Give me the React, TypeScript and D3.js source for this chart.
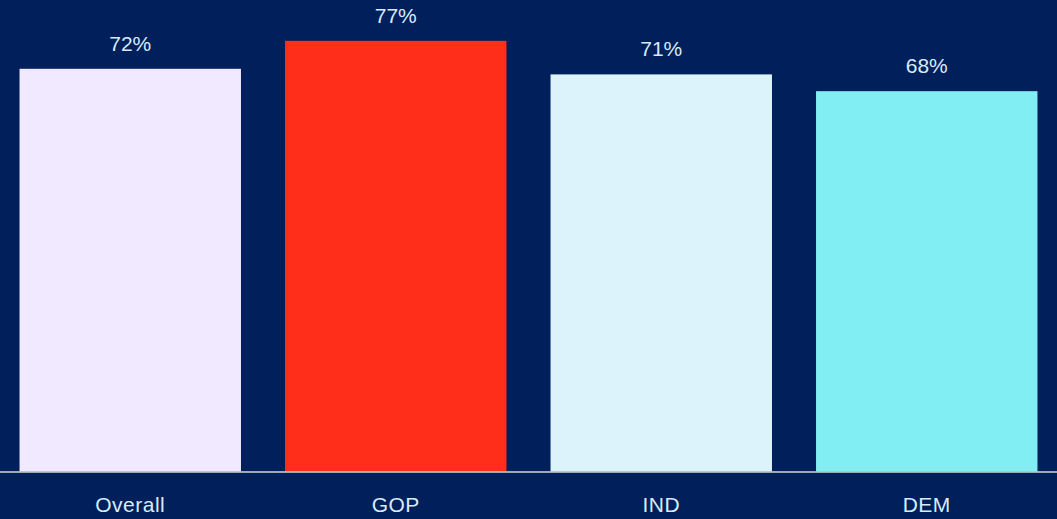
import React, { useEffect, useRef } from "react";
import * as d3 from "d3";

const categories: string[] = ["Overall", "GOP", "IND", "DEM"];
const values: number[] = [72, 77, 71, 68];
const barColors: string[] = ["#f1e9ff", "#ff2e1a", "#dcf3fc", "#80eef2"];

const W = 1057;
const H = 519;

export default function App() {
    const ref = useRef<SVGSVGElement | null>(null);

    useEffect(() => {
        const svg = d3.select(ref.current);
        svg.selectAll("*").remove();

        const baseY = 471.5;

        // band scale for the 4 groups
        const x = d3
            .scaleBand<string>()
            .domain(categories)
            .range([-2.5, W + 2.5])
            .paddingInner(0.166)
            .paddingOuter(0.083);

        const y = d3.scaleLinear().domain([0, 84.3]).range([baseY, 0]);

        svg.append("rect").attr("width", W).attr("height", H).attr("fill", "#001f5b");

        svg.selectAll(".bar")
            .data(values)
            .enter()
            .append("rect")
            .attr("class", "bar")
            .attr("x", (d, i) => x(categories[i])!)
            .attr("width", x.bandwidth())
            .attr("y", d => y(d))
            .attr("height", d => baseY - y(d))
            .attr("fill", (d, i) => barColors[i]);

        // value labels
        svg.selectAll(".val")
            .data(values)
            .enter()
            .append("text")
            .attr("class", "val")
            .attr("x", (d, i) => x(categories[i])! + x.bandwidth() / 2)
            .attr("y", d => y(d) - 18)
            .attr("text-anchor", "middle")
            .attr("fill", "#d6ecfb")
            .attr("font-family", "'Liberation Sans', Arial, sans-serif")
            .attr("font-size", 21)
            .text(d => d + "%");

        // baseline
        svg.append("line")
            .attr("x1", 0)
            .attr("x2", W)
            .attr("y1", baseY + 0.5)
            .attr("y2", baseY + 0.5)
            .attr("stroke", "#d9d9d9")
            .attr("stroke-width", 1.5);

        // category labels
        svg.selectAll(".cat")
            .data(categories)
            .enter()
            .append("text")
            .attr("class", "cat")
            .attr("x", d => x(d)! + x.bandwidth() / 2)
            .attr("y", 512)
            .attr("text-anchor", "middle")
            .attr("fill", "#d6ecfb")
            .attr("font-family", "'Liberation Sans', Arial, sans-serif")
            .attr("font-size", 21)
            .attr("letter-spacing", 0.5)
            .text(d => d);
    }, []);

    return (
        <svg
            ref={ref}
            width={W}
            height={H}
            style={{ position: "absolute", left: 0, top: 0, display: "block" }}
        />
    );
}
